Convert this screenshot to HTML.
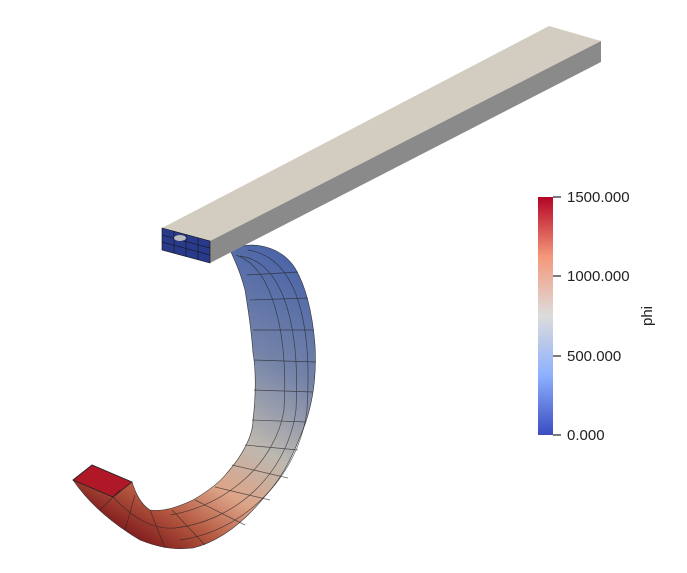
<!DOCTYPE html>
<html><head><meta charset="utf-8"><style>
html,body{margin:0;padding:0;background:#fff;}
svg{display:block;font-family:"Liberation Sans",sans-serif;}
</style></head><body>
<svg width="687" height="573" viewBox="0 0 687 573">
<defs>
<linearGradient id="cg" x1="280" y1="250" x2="110" y2="530" gradientUnits="userSpaceOnUse">
<stop offset="0" stop-color="#4a64a8"/>
<stop offset="0.3" stop-color="#7483a8"/>
<stop offset="0.55" stop-color="#bdb8b0"/>
<stop offset="0.72" stop-color="#dda488"/>
<stop offset="0.86" stop-color="#b45840"/>
<stop offset="1" stop-color="#7a1418"/>
</linearGradient>
<linearGradient id="cb" x1="0" y1="1" x2="0" y2="0">
<stop offset="0" stop-color="#3b4cc0"/>
<stop offset="0.25" stop-color="#8db0fe"/>
<stop offset="0.5" stop-color="#dddcdc"/>
<stop offset="0.75" stop-color="#f4987a"/>
<stop offset="1" stop-color="#b40426"/>
</linearGradient>
</defs>
<g>
<path d="M230,250 C250,240 280,245 295,268 C308,290 313,320 315,345 C317,380 312,410 300,437 C290,462 280,480 266,495 C250,515 225,540 193,548 C175,550 160,548 140,540 C115,525 90,505 73,480 L92,465 L132,482 C136,495 142,505 150,510 C165,512 180,506 193,500 C210,490 220,482 227,473 C243,455 253,435 253,420 C256,395 256,370 253,353 C251,325 247,303 245,290 C241,275 237,265 230,250 Z" fill="url(#cg)" stroke="#333" stroke-width="0.6"/>
<path d="M73,480 L92,465 L132,482 L113,497 Z" fill="#b01828" stroke="#222" stroke-width="0.8"/>
<g stroke="#222" stroke-width="0.7" fill="none" opacity="0.7">
<path d="M240,256 C285,262 300,330 296,410 C288,470 240,520 175,528 C150,530 130,515 113,497"/>
<path d="M236,255 C275,268 288,340 284,410 C276,460 230,505 170,515"/>
<path d="M248,250 C300,258 312,330 307,410 C300,470 250,530 180,540"/>
<path d="M247,275 L298,272 M250,300 L308,298 M253,330 L314,330 M254,360 L316,362 M254,390 L313,392 M252,420 L306,422 M245,445 L298,450 M232,465 L288,478 M215,487 L270,500 M195,500 L245,525 M172,510 L205,545 M150,510 L165,548 M135,495 L125,530 M120,490 L100,510"/>
</g>
</g>
<g>
<polygon points="162,228 549,26 601,41 210,241" fill="#d3cdc1"/>
<polygon points="210,241 601,41 601,62 210,263" fill="#8a8a8a"/>
<polygon points="162,228 210,241 210,263 162,250" fill="#2a3a8a" stroke="#111" stroke-width="0.6"/>
<g stroke="#111" stroke-width="0.6">
<line x1="162" y1="235" x2="210" y2="248"/><line x1="162" y1="242" x2="210" y2="255"/>
<line x1="174" y1="231" x2="174" y2="253"/><line x1="186" y1="234" x2="186" y2="256"/><line x1="198" y1="238" x2="198" y2="260"/>
</g>
<ellipse cx="180" cy="238" rx="6" ry="3" fill="#bbb"/>
</g>
<g>
<rect x="538" y="197" width="15" height="238" fill="url(#cb)"/>
<g stroke="#222" stroke-width="1.2">
<line x1="553" y1="197" x2="561" y2="197"/><line x1="553" y1="276" x2="561" y2="276"/>
<line x1="553" y1="356" x2="561" y2="356"/><line x1="553" y1="435" x2="561" y2="435"/>
</g>
<g font-size="15" fill="#222">
<text x="567" y="202">1500.000</text>
<text x="567" y="281">1000.000</text>
<text x="567" y="361">500.000</text>
<text x="567" y="440">0.000</text>
</g>
<text x="652" y="316" font-size="15" fill="#222" transform="rotate(-90 652 316)" text-anchor="middle">phi</text>
</g>
</svg>
</body></html>
